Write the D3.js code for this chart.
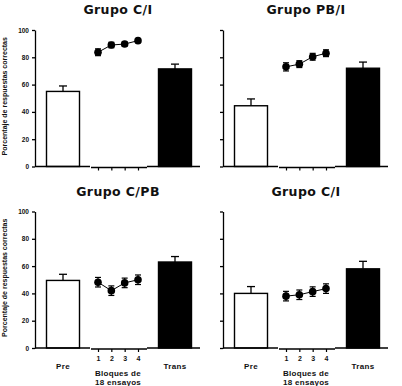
<!DOCTYPE html>
<html>
<head>
<meta charset="utf-8">
<script src="https://cdn.jsdelivr.net/npm/d3@7"></script>
<style>
  body { margin: 0; background: #fff; }
  svg { display: block; }
  text { font-family: "Liberation Sans", Arial, sans-serif; fill: #111; }
</style>
</head>
<body>
<svg id="chart" width="402" height="386"></svg>
<script>
// values (percent correct)
const titles = ["Grupo C/I", "Grupo PB/I", "Grupo C/PB", "Grupo C/I"];
const groups = ["Pre", "Bloques", "Trans"];
const blocks = ["1", "2", "3", "4"];
const yTicks = [0, 20, 40, 60, 80, 100];
const preMean = [55, 44.5, 49.5, 40];
const preErr = [4, 5, 4.5, 5];
const transMean = [71.5, 72, 63, 58];
const transErr = [3.5, 4.5, 4, 5.5];
const blockMeans = [
  [83.7, 89, 89.7, 92.2],
  [73, 75, 80.4, 83],
  [48.2, 42, 47.7, 50],
  [38, 39, 41.3, 43.5]
];
const blockErrs = [
  [2.5, 2, 1.5, 1.5],
  [3, 2.5, 2.5, 2.5],
  [3.5, 3.5, 3.5, 3.5],
  [3.5, 3.5, 3.5, 3.5]
];

const svg = d3.select("#chart");
const panelX = [35, 223, 35, 223];
const panelY = [30, 30, 211.5, 211.5];
const w = 168, h = 136.5;

titles.forEach((title, i) => {
  const left = i % 2 == 0;
  const bottom = i >= 2;
  const g = svg.append("g").attr("transform", "translate(" + panelX[i] + "," + panelY[i] + ")");

  const y = d3.scaleLinear().domain([0, 100]).range([h, 0]);
  const x = d3.scaleBand().domain(groups).range([0, w]);
  const b0 = x("Bloques");
  const xb = d3.scalePoint().domain(blocks).range([b0 + 7, b0 + 47]);
  const barW = 33;

  // title
  g.append("text")
    .attr("x", 83).attr("y", -16)
    .attr("text-anchor", "middle")
    .style("font-family", "'DejaVu Sans', Verdana, sans-serif")
    .style("font-size", "12.5px").style("font-weight", "bold")
    .style("letter-spacing", "0.4px")
    .text(title);

  // y axis
  const yAxis = g.append("g")
    .call(d3.axisLeft(y).tickValues(yTicks).tickSize(3).tickSizeOuter(0).tickPadding(3));
  yAxis.selectAll("path, line").attr("stroke", "#000").attr("stroke-width", 1.3);
  yAxis.selectAll("text")
    .style("font-size", "6.5px").style("font-weight", "bold")
    .style("font-family", "'Liberation Sans', Arial, sans-serif");
  if (!left) yAxis.selectAll("text").remove();

  if (left) {
    g.append("text")
      .attr("transform", "translate(-28," + (h / 2 - 2) + ") rotate(-90)")
      .attr("text-anchor", "middle")
      .style("font-size", "7px").style("font-weight", "bold")
      .text("Porcentaje de respuestas correctas");
  }

  // bars
  const bars = [
    { k: "Pre", m: preMean[i], e: preErr[i], fill: "#fff" },
    { k: "Trans", m: transMean[i], e: transErr[i], fill: "#000" }
  ];
  bars.forEach(d => {
    const cx = x(d.k) + x.bandwidth() / 2;
    g.append("line")
      .attr("x1", cx).attr("x2", cx).attr("y1", y(d.m)).attr("y2", y(d.m + d.e))
      .attr("stroke", "#000").attr("stroke-width", 1.3);
    g.append("line")
      .attr("x1", cx - 4).attr("x2", cx + 4).attr("y1", y(d.m + d.e)).attr("y2", y(d.m + d.e))
      .attr("stroke", "#000").attr("stroke-width", 1.3);
    g.append("rect")
      .attr("x", cx - barW / 2).attr("y", y(d.m))
      .attr("width", barW).attr("height", y(0) - y(d.m))
      .attr("fill", d.fill).attr("stroke", "#000").attr("stroke-width", 1.4);
  });

  // broken x axis segments
  const seg = [[0, 55, h], [56, 112, h + 1], [112, 165, h]];
  seg.forEach(s => {
    g.append("line")
      .attr("x1", s[0]).attr("x2", s[1]).attr("y1", s[2]).attr("y2", s[2])
      .attr("stroke", "#000").attr("stroke-width", 1.3);
  });
  const xAxis = g.append("g")
    .attr("transform", "translate(0," + (h + 1) + ")")
    .call(d3.axisBottom(xb).tickSize(3).tickPadding(4));
  xAxis.select(".domain").remove();
  xAxis.selectAll("line").attr("stroke", "#000").attr("stroke-width", 1.2);
  xAxis.selectAll("text")
    .style("font-size", "7px").style("font-weight", "bold")
    .style("font-family", "'Liberation Sans', Arial, sans-serif")
    .attr("fill", "#1a1a3a");
  if (!bottom) xAxis.selectAll("text").remove();

  // block line with error bars
  const pts = blocks.map((b, j) => ({ b: b, m: blockMeans[i][j], e: blockErrs[i][j] }));
  g.append("path")
    .datum(pts)
    .attr("fill", "none").attr("stroke", "#000").attr("stroke-width", 1)
    .attr("d", d3.line().x(d => xb(d.b)).y(d => y(d.m)));
  pts.forEach(d => {
    const cx = xb(d.b);
    g.append("line")
      .attr("x1", cx).attr("x2", cx).attr("y1", y(d.m - d.e)).attr("y2", y(d.m + d.e))
      .attr("stroke", "#000").attr("stroke-width", 1.2);
    [d.m - d.e, d.m + d.e].forEach(v => {
      g.append("line")
        .attr("x1", cx - 3).attr("x2", cx + 3).attr("y1", y(v)).attr("y2", y(v))
        .attr("stroke", "#000").attr("stroke-width", 1.2);
    });
    g.append("circle")
      .attr("cx", cx).attr("cy", y(d.m)).attr("r", 3.8)
      .attr("fill", "#000");
  });

  if (bottom) {
    const lab = [["Pre", x("Pre") + x.bandwidth() / 2, h + 21], ["Trans", x("Trans") + x.bandwidth() / 2, h + 21],
                 ["Bloques de", b0 + 27, h + 28], ["18 ensayos", b0 + 27, h + 36.5]];
    lab.forEach(l => {
      g.append("text")
        .attr("x", l[1]).attr("y", l[2])
        .attr("text-anchor", "middle")
        .style("font-size", "8px").style("font-weight", "bold")
        .style("letter-spacing", "0.3px")
        .text(l[0]);
    });
  }
});
</script>
</body>
</html>
